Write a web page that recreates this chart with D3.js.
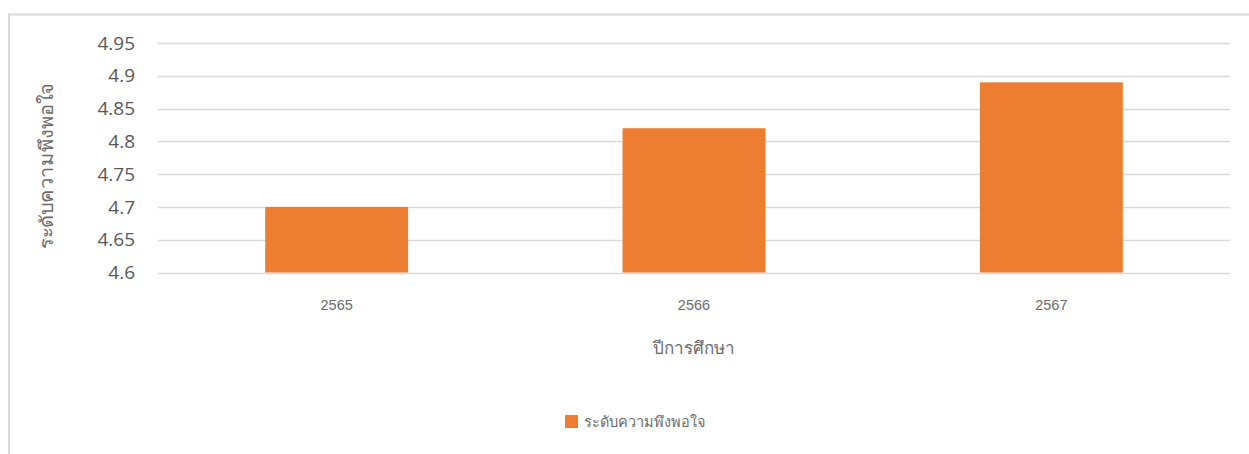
<!DOCTYPE html>
<html>
<head>
<meta charset="utf-8">
<script src="https://cdn.jsdelivr.net/npm/d3@7"></script>
<style>
  body { margin: 0; background: #fff; }
</style>
</head>
<body>
<div id="chart"></div>
<script>
const years = ["2565", "2566", "2567"];
const values = [4.70, 4.82, 4.89];
const yTicks = [4.6, 4.65, 4.7, 4.75, 4.8, 4.85, 4.9, 4.95];
const seriesName = "ระดับความพึงพอใจ";
const xTitle = "ปีการศึกษา";
const yTitle = "ระดับความพึงพอใจ";

const width = 1249, height = 454;
const margin = {top: 43, right: 19, bottom: 182, left: 158};
const orange = "#ED7D31";

const svg = d3.select("#chart").append("svg")
    .attr("width", width)
    .attr("height", height);

// chart area border
svg.append("path")
    .attr("d", `M9,${height} V14.5 H${width}`)
    .attr("fill", "none")
    .attr("stroke", "#d9d9d9")
    .attr("stroke-width", 2);

const x = d3.scaleBand()
    .domain(years)
    .range([margin.left, width - margin.right])
    .paddingInner(0.6)
    .paddingOuter(0.3);

const y = d3.scaleLinear()
    .domain([4.6, 4.95])
    .range([height - margin.bottom + 0.5, margin.top]);

// gridlines
svg.append("g")
  .selectAll("line")
  .data(yTicks)
  .join("line")
    .attr("x1", margin.left)
    .attr("x2", width - margin.right)
    .attr("y1", d => Math.round(y(d)) + 0.5)
    .attr("y2", d => Math.round(y(d)) + 0.5)
    .attr("stroke", "#d9d9d9")
    .attr("stroke-width", 1.5);

// y tick labels
svg.append("g")
  .selectAll("text")
  .data(yTicks)
  .join("text")
    .attr("x", 135)
    .attr("y", d => y(d))
    .attr("dy", "0.35em")
    .attr("text-anchor", "end")
    .attr("font-family", "Open Sans, Noto Sans, sans-serif")
    .attr("font-size", 19)
    .attr("fill", "#595959")
    .text(d => d);

// bars
svg.append("g")
  .selectAll("rect")
  .data(values)
  .join("rect")
    .attr("x", (d, i) => x(years[i]))
    .attr("width", x.bandwidth())
    .attr("y", d => y(d))
    .attr("height", d => y(4.6) - y(d))
    .attr("fill", orange);

// x tick labels
svg.append("g")
  .selectAll("text")
  .data(years)
  .join("text")
    .attr("x", d => x(d) + x.bandwidth() / 2)
    .attr("y", 305)
    .attr("dy", "0.35em")
    .attr("text-anchor", "middle")
    .attr("font-family", "Liberation Sans, Arial, sans-serif")
    .attr("font-size", 14.5)
    .attr("fill", "#6b6b6b")
    .text(d => d);

// axis titles
svg.append("text")
    .attr("x", (margin.left + width - margin.right) / 2)
    .attr("y", 348)
    .attr("dy", "0.35em")
    .attr("text-anchor", "middle")
    .attr("font-family", "Noto Sans, sans-serif")
    .attr("font-size", 17)
    .attr("fill", "#6b6b6b")
    .text(xTitle);

svg.append("text")
    .attr("transform", "translate(46,166) rotate(-90)")
    .attr("dy", "0.35em")
    .attr("text-anchor", "middle")
    .attr("font-family", "Noto Sans, sans-serif")
    .attr("font-size", 19)
    .attr("textLength", 166)
    .attr("lengthAdjust", "spacingAndGlyphs")
    .attr("fill", "#6b6b6b")
    .text(yTitle);

// legend
const legend = svg.append("g").attr("transform", "translate(565,415)");
legend.append("rect")
    .attr("width", 13)
    .attr("height", 13)
    .attr("fill", orange);
legend.append("text")
    .attr("x", 19)
    .attr("y", 7)
    .attr("dy", "0.35em")
    .attr("font-family", "Noto Sans, sans-serif")
    .attr("font-size", 14.5)
    .attr("fill", "#6b6b6b")
    .text(seriesName);
</script>
</body>
</html>
